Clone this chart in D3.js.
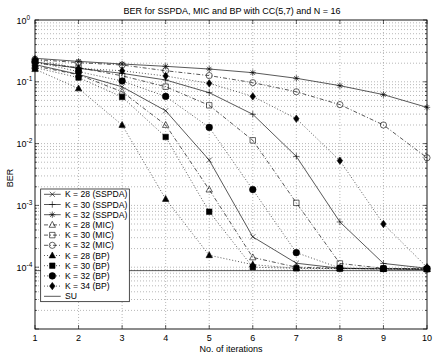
<!DOCTYPE html>
<html><head><meta charset="utf-8">
<script src="https://cdn.jsdelivr.net/npm/d3@7"></script>
<style>body{margin:0;background:#fff} text{font-family:"Liberation Sans",Arial,Helvetica,sans-serif;fill:#000}</style>
</head><body><svg id="c" width="436" height="354"></svg>
<script>
const iterations = [1,2,3,4,5,6,7,8,9,10];
const sspdaK28 = [0.19, 0.132, 0.083, 0.034, 0.0054, 3.1e-4, 1.16e-4, 9.6e-5, 9.4e-5, 9.2e-5];
const sspdaK30 = [0.21, 0.165, 0.137, 0.107, 0.0667, 0.0298, 0.0062, 5.4e-4, 1.15e-4, 9.6e-5];
const sspdaK32 = [0.24, 0.214, 0.194, 0.178, 0.161, 0.1405, 0.114, 0.0866, 0.062, 0.0386];
const micK28 = [0.18, 0.13, 0.069, 0.02, 0.0018, 1.44e-4, 1.0e-4, 9.6e-5, 9.4e-5, 9.3e-5];
const micK30 = [0.20, 0.17, 0.125, 0.0834, 0.0416, 0.0113, 0.0011, 1.15e-4, 9.6e-5, 9.4e-5];
const micK32 = [0.23, 0.204, 0.187, 0.151, 0.126, 0.097, 0.069, 0.0427, 0.02, 0.0059];
const bpK28 = [0.16, 0.078, 0.02, 0.00127, 1.56e-4, 1.1e-4, 9.6e-5, 9.5e-5, 9.4e-5, 9.3e-5];
const bpK30 = [0.17, 0.117, 0.0568, 0.0128, 7.9e-4, 1.0e-4, 9.6e-5, 9.5e-5, 9.4e-5, 9.3e-5];
const bpK32 = [0.21, 0.146, 0.103, 0.058, 0.0183, 0.0018, 1.72e-4, 9.7e-5, 9.5e-5, 9.4e-5];
const bpK34 = [0.23, 0.165, 0.151, 0.124, 0.0944, 0.058, 0.0253, 0.0053, 5.0e-4, 1.0e-4];
const su = [8.8e-5, 8.8e-5, 8.8e-5, 8.8e-5, 8.8e-5, 8.8e-5, 8.8e-5, 8.8e-5, 8.8e-5, 8.8e-5];
const labels = ["K = 28 (SSPDA)","K = 30 (SSPDA)","K = 32 (SSPDA)","K = 28 (MIC)","K = 30 (MIC)","K = 32 (MIC)","K = 28 (BP)","K = 30 (BP)","K = 32 (BP)","K = 34 (BP)","SU"];
const yTickExps = [0,-1,-2,-3,-4];
const xTicks = [1,2,3,4,5,6,7,8,9,10];
const title = "BER for SSPDA, MIC and BP with CC(5,7) and N = 16";
const xLabel = "No. of iterations";
const yLabel = "BER";

const seriesVals = [sspdaK28,sspdaK30,sspdaK32,micK28,micK30,micK32,bpK28,bpK30,bpK32,bpK34,su];
const markers = ["x","plus","star","tri","sq","circ","tri","sq","circ","diam",null];
const filled = [false,false,false,false,false,false,true,true,true,true,false];
const dashes = [null,null,null,"4,2,1,2","4,2,1,2","4,2,1,2","1,2","1,2","1,2","1,2",null];

const W=436,H=354, L=35,R=427,T=20,B=329;
const svg=d3.select("#c");
const x=d3.scaleLinear().domain([1,10]).range([L,R]);
const y=d3.scaleLog().domain([1e-5,1]).range([B,T]);

// grid
const g=svg.append("g");
const minor=[];
for(let e=-5;e<0;e++) for(let m=1;m<10;m++) minor.push(m*Math.pow(10,e));
minor.push(1);
g.selectAll("line.hg").data(minor.filter(v=>v>1e-5&&v<1)).join("line")
 .attr("x1",L).attr("x2",R).attr("y1",d=>y(d)).attr("y2",d=>y(d))
 .attr("stroke","#9a9a9a").attr("stroke-width",0.7).attr("stroke-dasharray","1,2");
g.selectAll("line.vg").data(xTicks.slice(1,-1)).join("line")
 .attr("x1",d=>x(d)).attr("x2",d=>x(d)).attr("y1",T).attr("y2",B)
 .attr("stroke","#9a9a9a").attr("stroke-width",0.7).attr("stroke-dasharray","1,2");

// ticks (inward)
const tk=svg.append("g").attr("stroke","#000").attr("stroke-width",0.6);
xTicks.forEach(v=>{tk.append("line").attr("x1",x(v)).attr("x2",x(v)).attr("y1",B).attr("y2",B-4);
  tk.append("line").attr("x1",x(v)).attr("x2",x(v)).attr("y1",T).attr("y2",T+4);});
minor.forEach(v=>{const len=(Math.abs(Math.log10(v)-Math.round(Math.log10(v)))<1e-9)?4:2;
  tk.append("line").attr("x1",L).attr("x2",L+len).attr("y1",y(v)).attr("y2",y(v));
  tk.append("line").attr("x1",R).attr("x2",R-len).attr("y1",y(v)).attr("y2",y(v));});

// clip
svg.append("clipPath").attr("id","cp").append("rect").attr("x",L).attr("y",T).attr("width",R-L).attr("height",B-T);

function markerPath(type,cx,cy){
  const r=3.2;
  switch(type){
    case "x": return `M${cx-r*.8},${cy-r*.8}L${cx+r*.8},${cy+r*.8}M${cx-r*.8},${cy+r*.8}L${cx+r*.8},${cy-r*.8}`;
    case "plus": return `M${cx-r},${cy}L${cx+r},${cy}M${cx},${cy-r}L${cx},${cy+r}`;
    case "star": return `M${cx-r},${cy}L${cx+r},${cy}M${cx},${cy-r}L${cx},${cy+r}M${cx-r*.7},${cy-r*.7}L${cx+r*.7},${cy+r*.7}M${cx-r*.7},${cy+r*.7}L${cx+r*.7},${cy-r*.7}`;
    case "tri": return `M${cx},${cy-r*1.1}L${cx+r},${cy+r*.75}L${cx-r},${cy+r*.75}Z`;
    case "sq": return `M${cx-r*.85},${cy-r*.85}h${r*1.7}v${r*1.7}h${-r*1.7}Z`;
    case "diam": return `M${cx},${cy-r*1.15}L${cx+r*.85},${cy}L${cx},${cy+r*1.15}L${cx-r*.85},${cy}Z`;
  }
}
function drawMarker(sel,type,fill,cx,cy){
  if(!type) return;
  if(type==="circ"){
    sel.append("circle").attr("cx",cx).attr("cy",cy).attr("r",fill?3.3:3.1)
      .attr("fill",fill?"#000":"none").attr("stroke","#000").attr("stroke-width",0.6);
    return;
  }
  sel.append("path").attr("d",markerPath(type,cx,cy))
    .attr("fill",fill?"#000":"none").attr("stroke","#000").attr("stroke-width",0.6);
}

const line=d3.line().x((d,i)=>x(iterations[i])).y(d=>y(d));
const plot=svg.append("g");
seriesVals.forEach((vals,si)=>{
  plot.append("path").attr("d",line(vals)).attr("fill","none").attr("stroke","#111")
    .attr("stroke-width",0.7).attr("clip-path","url(#cp)")
    .attr("stroke-dasharray",dashes[si]);
});
seriesVals.forEach((vals,si)=>{
  vals.forEach((v,i)=>drawMarker(plot,markers[si],filled[si],x(iterations[i]),y(v)));
});

// box
svg.append("rect").attr("x",L).attr("y",T).attr("width",R-L).attr("height",B-T)
  .attr("fill","none").attr("stroke","#000").attr("stroke-width",0.9);

// tick labels
xTicks.forEach(v=>svg.append("text").attr("x",x(v)).attr("y",341).attr("text-anchor","middle").attr("font-size",9).text(v));
yTickExps.forEach(e=>{
  const t=svg.append("text").attr("x",16.5).attr("y",y(Math.pow(10,e))+3.5).attr("font-size",9);
  t.append("tspan").text("10");
  t.append("tspan").attr("dy",-4).attr("font-size",6.5).text(e);
});
svg.append("text").attr("x",(L+R)/2).attr("y",352).attr("text-anchor","middle").attr("font-size",9).text(xLabel);
svg.append("text").attr("transform","translate(13,178) rotate(-90)").attr("text-anchor","middle").attr("font-size",9).text(yLabel);
svg.append("text").attr("x",232).attr("y",14).attr("text-anchor","middle").attr("font-size",9).text(title);

// legend
const lg=svg.append("g");
lg.append("rect").attr("x",40.7).attr("y",189).attr("width",88.6).attr("height",112.7).attr("fill","#fff").attr("stroke","#000").attr("stroke-width",0.7);
labels.forEach((lab,i)=>{
  const ly=194.3+i*10.2;
  lg.append("line").attr("x1",44).attr("x2",60.7).attr("y1",ly).attr("y2",ly).attr("stroke","#111").attr("stroke-width",0.7).attr("stroke-dasharray",dashes[i]);
  drawMarker(lg,markers[i],filled[i],52.3,ly);
  lg.append("text").attr("x",65).attr("y",ly+3.1).attr("font-size",8.6).text(lab);
});
</script></body></html>
